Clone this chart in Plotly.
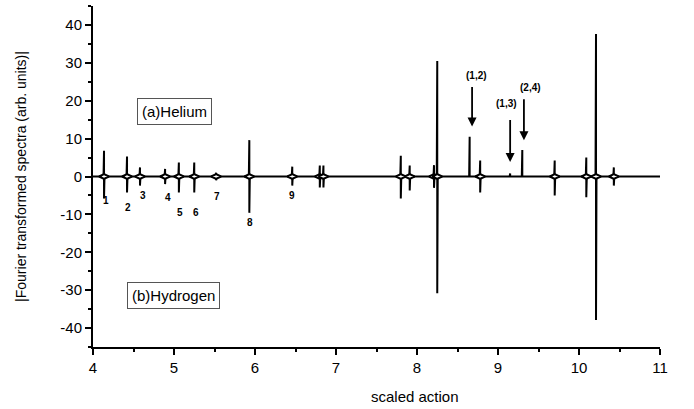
import plotly.graph_objects as go

# peak positions (scaled action) and heights
peak_pos = [4.136, 4.42, 4.58, 4.89, 5.06, 5.25, 5.52, 5.93, 6.46, 6.80, 6.845,
            7.80, 7.91, 8.21, 8.25, 8.65, 8.78, 9.15, 9.30, 9.70, 10.09, 10.21, 10.43]
helium = [6.8, 5.3, 2.4, 2.0, 3.7, 3.7, 1.0, 9.6, 2.6, 2.9, 2.9,
          5.5, 2.9, 3.0, 30.5, 10.5, 4.2, 0.8, 7.0, 4.2, 5.0, 37.6, 2.4]
hydrogen = [-5.8, -4.2, -2.4, -2.0, -4.2, -4.2, -1.0, -9.6, -2.4, -2.9, -2.9,
            -5.8, -3.7, -3.0, -30.8, 0.0, -4.2, 0.0, 0.0, -5.0, -5.5, -37.9, -2.4]

num_labels = ["1", "2", "3", "4", "5", "6", "7", "8", "9"]
num_x = [4.165, 4.43, 4.62, 4.93, 5.07, 5.27, 5.53, 5.94, 6.46]
num_y = [-6.3, -8.2, -5.0, -5.5, -9.5, -9.5, -5.3, -12.1, -5.0]

pair_labels = ["(1,2)", "(1,3)", "(2,4)"]
pair_x = [8.73, 9.10, 9.40]
pair_y = [26.6, 19.2, 23.4]
arrow_x = [8.68, 9.15, 9.32]
arrow_top = [24.0, 15.3, 20.8]
arrow_tip = [13.2, 3.8, 9.6]

x_ticks = [4, 5, 6, 7, 8, 9, 10, 11]
y_ticks = [-40, -30, -20, -10, 0, 10, 20, 30, 40]
y_ticktext = ["-40", "-30", "-20", "-10", "0", "10", "20", "30", "40"]

x_range = [4, 11]
y_range = [-45, 45]
halfw = 0.006

# build stick spectrum
xs, ys = [x_range[0]], [0]
for p, a, b in zip(peak_pos, helium, hydrogen):
    xs += [p - halfw, p, p, p + halfw]
    ys += [0, a, b, 0]
xs.append(x_range[1])
ys.append(0)

fig = go.Figure()
fig.add_trace(go.Scatter(x=xs, y=ys, mode="lines",
                         line=dict(color="black", width=2), hoverinfo="skip"))

dx = [p for p, b in zip(peak_pos, hydrogen) if b != 0]
fig.add_trace(go.Scatter(x=dx, y=[0] * len(dx), mode="markers",
                         marker=dict(symbol="diamond-wide", size=7, color="white",
                                     line=dict(color="black", width=2)),
                         hoverinfo="skip"))

ann = []
for t, x, y in zip(num_labels, num_x, num_y):
    ann.append(dict(x=x, y=y, text="<b>" + t + "</b>", showarrow=False,
                    font=dict(size=10, color="black", family="Liberation Sans")))
for t, x, y in zip(pair_labels, pair_x, pair_y):
    ann.append(dict(x=x, y=y, text="<b>" + t + "</b>", showarrow=False,
                    font=dict(size=10, color="black", family="Liberation Sans")))
for x, y0, y1 in zip(arrow_x, arrow_top, arrow_tip):
    ann.append(dict(x=x, y=y1, ax=x, ay=y0, axref="x", ayref="y", text="",
                    showarrow=True, arrowhead=2, arrowsize=1, arrowwidth=1.8,
                    arrowcolor="black"))
ann.append(dict(x=5.01, y=17.1, text="(a)Helium", showarrow=False,
                font=dict(size=15, color="black", family="Liberation Sans"),
                bordercolor="#555", borderwidth=1, borderpad=4))
ann.append(dict(x=4.99, y=-31.3, text="(b)Hydrogen", showarrow=False,
                font=dict(size=15, color="black", family="Liberation Sans"),
                bordercolor="#555", borderwidth=1, borderpad=4))
ann.append(dict(x=7.98, y=-0.115, xref="x", yref="paper", text="scaled action",
                showarrow=False, yanchor="top",
                font=dict(size=15, color="black", family="Liberation Sans")))

fig.update_layout(
    width=694, height=409,
    margin=dict(l=93, r=34, t=6, b=62),
    paper_bgcolor="white", plot_bgcolor="white",
    showlegend=False,
    font=dict(family="Liberation Sans", color="black", size=14),
    annotations=ann,
    xaxis=dict(range=x_range, tickvals=x_ticks,
               ticks="outside", ticklen=6, tickwidth=1.5, tickcolor="black",
               minor=dict(dtick=0.5, ticks="outside", ticklen=3, tickcolor="black"),
               showline=True, linecolor="black", linewidth=2,
               showgrid=False, zeroline=False, tickfont=dict(size=15)),
    yaxis=dict(range=y_range, tickvals=y_ticks, ticktext=y_ticktext,
               ticks="outside", ticklen=6, tickwidth=1.5, tickcolor="black",
               minor=dict(dtick=5, ticks="outside", ticklen=3, tickcolor="black"),
               showline=True, linecolor="black", linewidth=2,
               showgrid=False, zeroline=False, tickfont=dict(size=15),
               title=dict(text="|Fourier transformed spectra (arb. units)|",
                          font=dict(size=14), standoff=30)),
)

fig.write_html("out.html")
